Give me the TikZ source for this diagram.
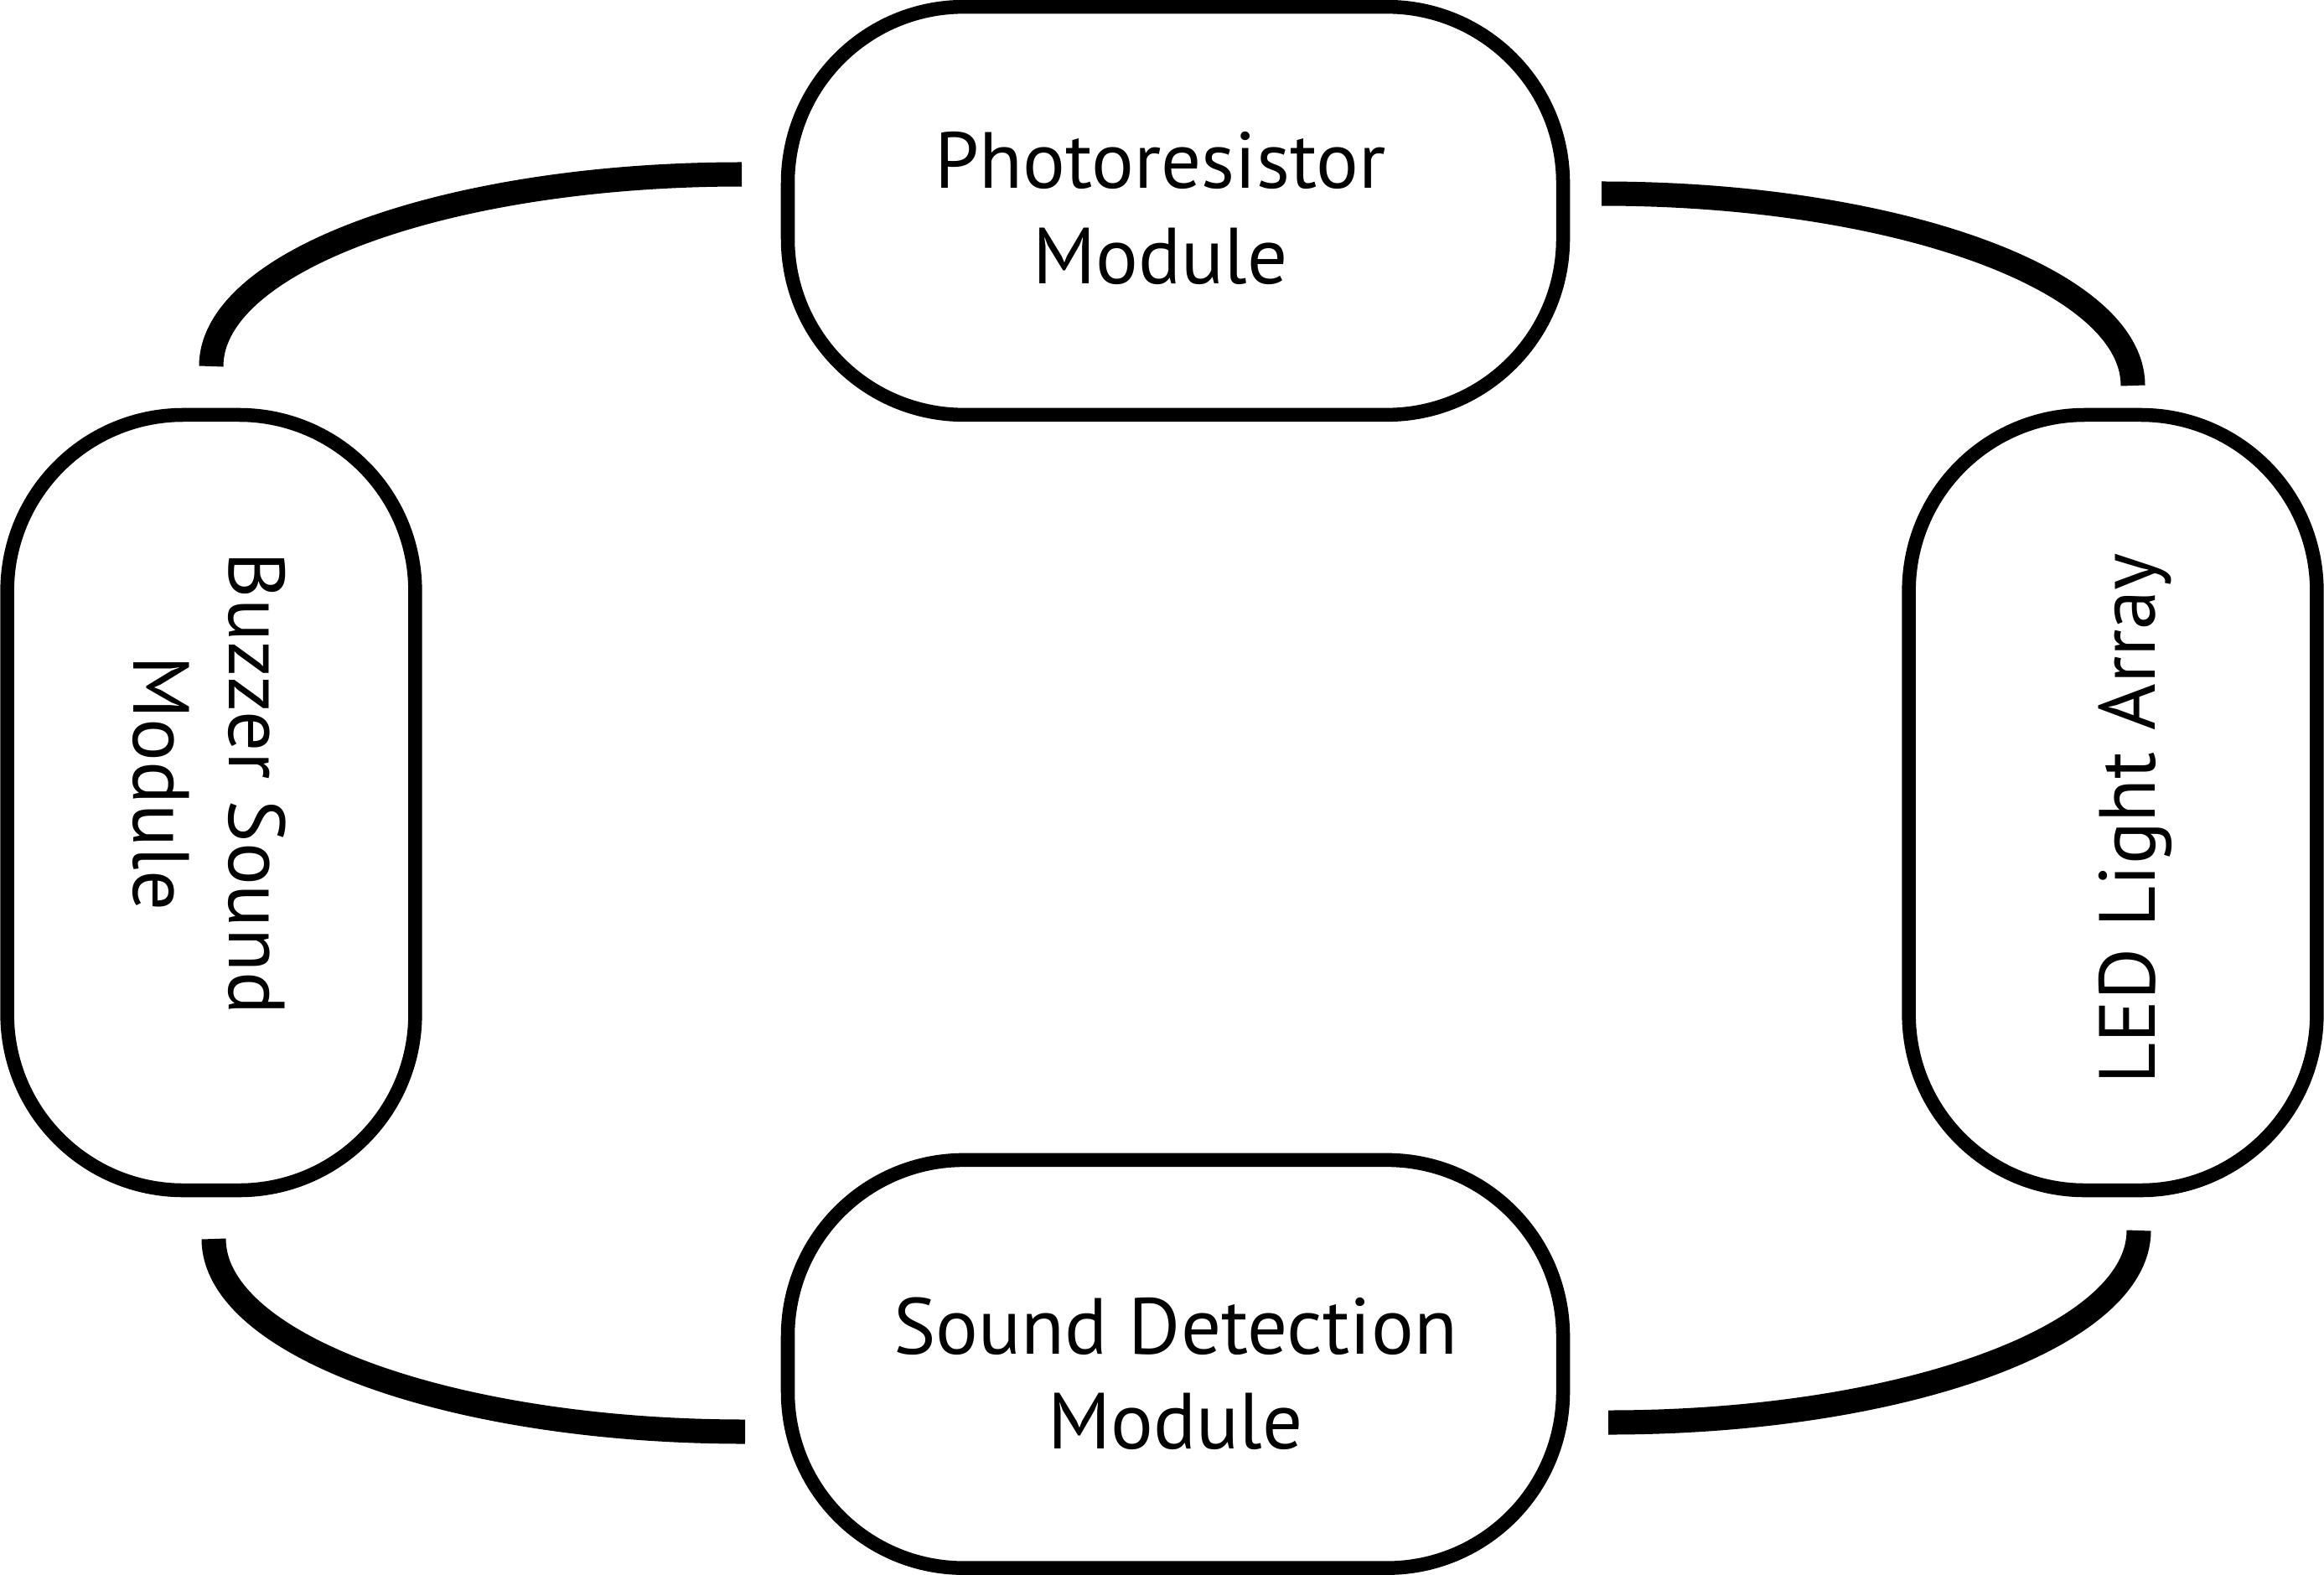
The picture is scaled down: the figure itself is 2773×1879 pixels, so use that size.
\documentclass[tikz,border=0pt]{standalone}
\usepackage{fontspec}
\setmainfont{PT Sans}
\usetikzlibrary{positioning}

\begin{document}
\begin{tikzpicture}[
    x=0.01cm, y=-0.01cm,
    module/.style={draw, line width=1.65mm, rounded corners=2.1cm,
                   minimum width=9.245cm, minimum height=4.865cm},
    modtext/.style={align=center, font=\fontsize{27}{32.3}\selectfont},
    link/.style={line width=2.9mm}
]
    \useasboundingbox (0,0) rectangle (2773,1879);

    \node[module] (photo) at (1402.5,251.5) {};
    \node[module, below=8.72cm of photo] (sound) {};
    \node[module, rotate=-90] (buzzer) at (252,957.5) {};
    \node[module, rotate=90] (led) at (2521,957.5) {};

    \node[modtext] (photo-text) at ([shift={(-18,-3)}]photo) {Photoresistor\\Module};
    \node[modtext] (sound-text) at ([shift={(0,11.5)}]sound) {Sound Detection\\Module};
    \node[modtext, rotate=-90] (buzzer-text) at ([shift={(-2,-23)}]buzzer) {Buzzer Sound\\Module};
    \node[modtext, rotate=90] (led-text) at ([shift={(26.5,19.5)}]led) {LED Light Array};

    % free ends of the links
    \coordinate (photo-l) at (885,208);
    \coordinate (photo-r) at (1911,231);
    \coordinate (buzzer-t) at (252,437);
    \coordinate (buzzer-b) at (255,1478);
    \coordinate (led-t) at (2545,460);
    \coordinate (led-b) at (2552,1468);
    \coordinate (sound-l) at (889,1708);
    \coordinate (sound-r) at (1919,1697);

    \draw[link] (photo-l) .. controls +(-350,0) and +(0,-126.5) .. (buzzer-t);
    \draw[link] (photo-r) .. controls +(350,0) and +(0,-126.5) .. (led-t);
    \draw[link] (sound-l) .. controls +(-350,0) and +(0,127) .. (buzzer-b);
    \draw[link] (sound-r) .. controls +(350,0) and +(0,126.5) .. (led-b);
\end{tikzpicture}
\end{document}
